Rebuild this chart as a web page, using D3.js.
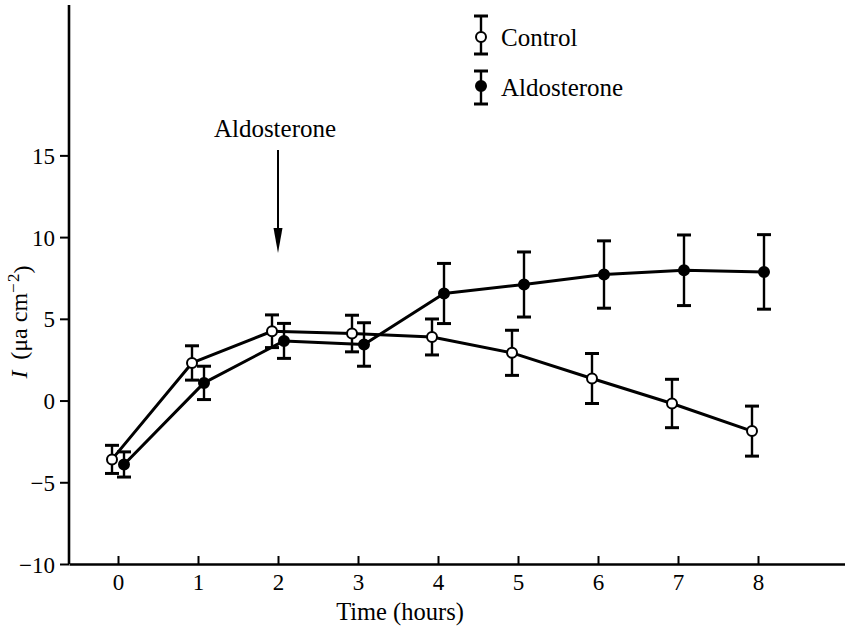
<!DOCTYPE html>
<html>
<head>
<meta charset="utf-8">
<script src="https://cdn.jsdelivr.net/npm/d3@7"></script>
<style>
  html, body { margin: 0; padding: 0; background: #fff; }
  svg { display: block; }
  text { font-family: "Liberation Serif", "DejaVu Serif", serif; fill: #000; }
</style>
</head>
<body>
<svg id="chart" width="845" height="627"></svg>
<script>
// ---- data ----
const hours = [0, 1, 2, 3, 4, 5, 6, 7, 8];
const controlMean = [-3.60, 2.30, 4.24, 4.10, 3.89, 2.92, 1.35, -0.18, -1.87];
const controlErr  = [0.86, 1.05, 1.00, 1.12, 1.10, 1.38, 1.53, 1.48, 1.53];
const aldoMean    = [-3.91, 1.08, 3.65, 3.43, 6.55, 7.10, 7.71, 7.97, 7.87];
const aldoErr     = [0.77, 1.02, 1.07, 1.33, 1.84, 1.99, 2.06, 2.16, 2.28];
const xTicks = [0, 1, 2, 3, 4, 5, 6, 7, 8];
const yTicks = [-10, -5, 0, 5, 10, 15];
const seriesNames = ["Control", "Aldosterone"];
const annotationTime = 2;
const annotationText = "Aldosterone";

// ---- layout ----
const svg = d3.select("#chart");
const x = d3.scaleLinear().domain([-0.6125, 9.0875]).range([69, 845]);
const y = d3.scaleLinear().domain([-10, 24.2]).range([564, 5]);
const dodge = 6;

const fmt = d => (d < 0 ? "\u2212" + Math.abs(d) : String(d));

// y axis
const gy = svg.append("g").attr("transform", `translate(${x.range()[0]},0)`)
  .call(d3.axisLeft(y).tickValues(yTicks).tickSize(9).tickPadding(5).tickFormat(fmt));
gy.select(".domain").attr("stroke", "#000").attr("stroke-width", 2.6).attr("d", `M0,${y.range()[1]}V${y.range()[0]}`);
gy.selectAll(".tick line").attr("stroke", "#000").attr("stroke-width", 2);
gy.selectAll(".tick text").style("font-size", "23px").attr("dy", "0.35em");

// x axis
const gx = svg.append("g").attr("transform", `translate(0,${y.range()[0]})`)
  .call(d3.axisBottom(x).tickValues(xTicks).tickSizeInner(-8).tickSizeOuter(0).tickPadding(10).tickFormat(d3.format("d")));
gx.select(".domain").attr("stroke", "#000").attr("stroke-width", 2.6);
gx.selectAll(".tick line").attr("stroke", "#000").attr("stroke-width", 2);
gx.selectAll(".tick text").style("font-size", "23px");

// axis titles
svg.append("text").attr("x", 400).attr("y", 620).attr("text-anchor", "middle")
  .style("font-size", "24.5px").text("Time (hours)");

const yl = svg.append("text").attr("transform", "translate(27,322) rotate(-90)")
  .attr("text-anchor", "middle").style("font-size", "24px");
yl.append("tspan").style("font-style", "italic").text("I");
yl.append("tspan").text("\u2009 (\u03bca cm");
yl.append("tspan").attr("dy", "-0.45em").style("font-size", "17px").text("\u2212\u200a2");
yl.append("tspan").attr("dy", "0.45em").text(")");

// series
const series = [
  { name: seriesNames[0], mean: controlMean, err: controlErr, off: -dodge, fill: "#fff" },
  { name: seriesNames[1], mean: aldoMean, err: aldoErr, off: dodge, fill: "#000" }
];

const line = d3.line().x(d => d.px).y(d => y(d.v));

series.forEach(s => {
  s.pts = hours.map((h, i) => ({ px: x(h) + s.off, v: s.mean[i], e: s.err[i] }));
});

// lines
series.forEach(s => {
  svg.append("path").datum(s.pts).attr("d", line)
    .attr("fill", "none").attr("stroke", "#000").attr("stroke-width", 3).attr("stroke-linejoin", "round");
});

// error bars
const cap = 7;
series.forEach(s => {
  const g = svg.append("g").attr("stroke", "#000").attr("stroke-width", 2.4);
  s.pts.forEach(p => {
    g.append("line").attr("x1", p.px).attr("x2", p.px).attr("y1", y(p.v + p.e)).attr("y2", y(p.v - p.e));
    g.append("line").attr("x1", p.px - cap).attr("x2", p.px + cap).attr("y1", y(p.v + p.e)).attr("y2", y(p.v + p.e)).attr("stroke-width", 3);
    g.append("line").attr("x1", p.px - cap).attr("x2", p.px + cap).attr("y1", y(p.v - p.e)).attr("y2", y(p.v - p.e)).attr("stroke-width", 3);
  });
});

// markers
series.forEach(s => {
  svg.append("g").selectAll("circle").data(s.pts).join("circle")
    .attr("cx", d => d.px).attr("cy", d => y(d.v)).attr("r", 5)
    .attr("fill", s.fill).attr("stroke", "#000").attr("stroke-width", 2);
});

// annotation arrow
const ax = x(annotationTime);
svg.append("text").attr("x", ax - 3).attr("y", 137).attr("text-anchor", "middle")
  .style("font-size", "25px").text(annotationText);
svg.append("line").attr("x1", ax).attr("x2", ax).attr("y1", 150).attr("y2", 235)
  .attr("stroke", "#000").attr("stroke-width", 2);
svg.append("path").attr("d", `M${ax - 4.5},228 L${ax + 4.5},228 L${ax},253 Z`).attr("fill", "#000");

// legend
const legend = [
  { name: seriesNames[0], fill: "#fff", cy: 37, top: 16, bot: 54, ty: 46 },
  { name: seriesNames[1], fill: "#000", cy: 86, top: 71, bot: 104, ty: 96 }
];
const lx = 481;
legend.forEach(l => {
  const g = svg.append("g");
  g.append("line").attr("x1", lx).attr("x2", lx).attr("y1", l.top).attr("y2", l.bot).attr("stroke", "#000").attr("stroke-width", 2.4);
  g.append("line").attr("x1", lx - cap).attr("x2", lx + cap).attr("y1", l.top).attr("y2", l.top).attr("stroke", "#000").attr("stroke-width", 3);
  g.append("line").attr("x1", lx - cap).attr("x2", lx + cap).attr("y1", l.bot).attr("y2", l.bot).attr("stroke", "#000").attr("stroke-width", 3);
  g.append("circle").attr("cx", lx).attr("cy", l.cy).attr("r", 5).attr("fill", l.fill).attr("stroke", "#000").attr("stroke-width", 2);
  g.append("text").attr("x", 501).attr("y", l.ty).style("font-size", "25px").text(l.name);
});
</script>
</body>
</html>
